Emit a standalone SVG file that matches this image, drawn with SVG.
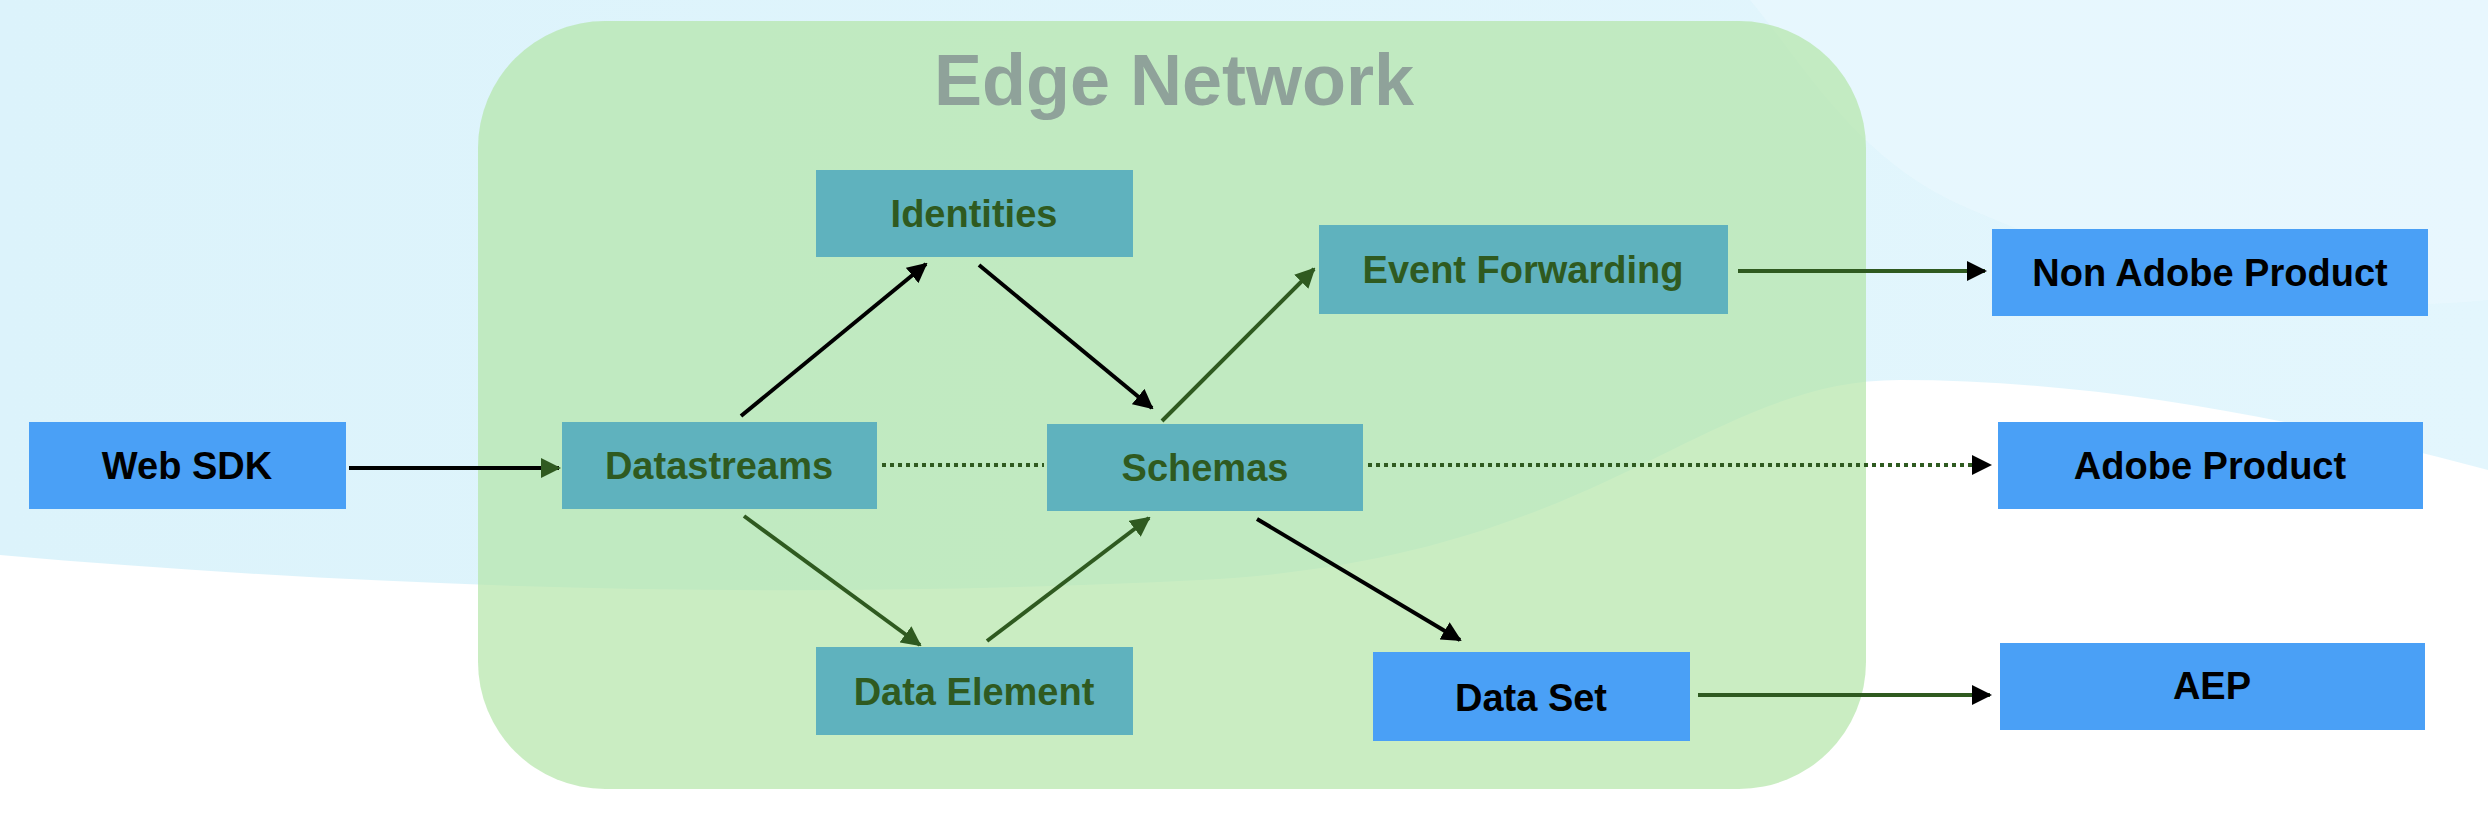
<svg xmlns="http://www.w3.org/2000/svg" width="2488" height="820" viewBox="0 0 2488 820">
<defs>
<style>
.t{fill:#5fb2be}.b{fill:#4aa0f6}
text{font-family:"Liberation Sans",Arial,sans-serif;font-weight:bold;font-size:38px;text-anchor:middle;dominant-baseline:central}
.gt{fill:#2f5a20}.bt{fill:#000}
.k{stroke:#000;stroke-width:4;fill:none}
.g{stroke:#2f5a20;stroke-width:4;fill:none}
</style>
<marker id="ak" viewBox="0 0 10 10" refX="9" refY="5" markerWidth="5" markerHeight="5" orient="auto"><path d="M0,0L10,5L0,10z" fill="#000"/></marker>
<marker id="ag" viewBox="0 0 10 10" refX="9" refY="5" markerWidth="5" markerHeight="5" orient="auto"><path d="M0,0L10,5L0,10z" fill="#2f5a20"/></marker>
<linearGradient id="bg" x1="0" y1="0" x2="1" y2="0"><stop offset="0" stop-color="#dcf3fb"/><stop offset="1" stop-color="#e3f6fd"/></linearGradient>
</defs>
<rect width="2488" height="820" fill="#fff"/>
<path d="M0,0H2488V470C2300,420 2100,380 1900,380C1700,380 1600,560 1200,580C800,600 400,590 0,555Z" fill="url(#bg)"/>
<path d="M1750,0H2488V300C2300,320 2100,270 1950,200C1850,150 1800,60 1750,0Z" fill="#eaf8fd" opacity="0.7"/>
<rect x="478" y="21" width="1388" height="768" rx="127" fill="#b3e6a8" opacity="0.7"/>
<text x="1174" y="80" style="font-size:72px;fill:#8fa29a">Edge Network</text>
<g id="connectors">
<line class="k" x1="349" y1="468" x2="559" y2="468" marker-end="url(#ag)"/>
<line class="k" x1="741" y1="416" x2="926" y2="264" marker-end="url(#ak)"/>
<line class="k" x1="979" y1="265" x2="1152" y2="408" marker-end="url(#ak)"/>
<line class="g" x1="1162" y1="421" x2="1314" y2="269" marker-end="url(#ag)"/>
<line class="g" x1="744" y1="516" x2="920" y2="645" marker-end="url(#ag)"/>
<line class="g" x1="987" y1="641" x2="1149" y2="518" marker-end="url(#ag)"/>
<line class="k" x1="1257" y1="519" x2="1460" y2="640" marker-end="url(#ak)"/>
<line class="g" x1="882" y1="465" x2="1044" y2="465" stroke-dasharray="4 4"/>
<line class="g" x1="1368" y1="465" x2="1990" y2="465" stroke-dasharray="4 4" marker-end="url(#ak)"/>
<line class="g" x1="1738" y1="271" x2="1985" y2="271" marker-end="url(#ak)"/>
<line class="g" x1="1698" y1="695" x2="1990" y2="695" marker-end="url(#ak)"/>
</g>
<g id="web-sdk"><rect class="b" x="29" y="422" width="317" height="87"/><text class="bt" x="187" y="466">Web SDK</text></g>
<g id="datastreams"><rect class="t" x="562" y="422" width="315" height="87"/><text class="gt" x="719" y="466">Datastreams</text></g>
<g id="schemas"><rect class="t" x="1047" y="424" width="316" height="87"/><text class="gt" x="1205" y="468">Schemas</text></g>
<g id="identities"><rect class="t" x="816" y="170" width="317" height="87"/><text class="gt" x="974" y="214">Identities</text></g>
<g id="event-forwarding"><rect class="t" x="1319" y="225" width="409" height="89"/><text class="gt" x="1523" y="270">Event Forwarding</text></g>
<g id="data-element"><rect class="t" x="816" y="647" width="317" height="88"/><text class="gt" x="974" y="692">Data Element</text></g>
<g id="data-set"><rect class="b" x="1373" y="652" width="317" height="89"/><text class="bt" x="1531" y="698">Data Set</text></g>
<g id="non-adobe-product"><rect class="b" x="1992" y="229" width="436" height="87"/><text class="bt" x="2210" y="273">Non Adobe Product</text></g>
<g id="adobe-product"><rect class="b" x="1998" y="422" width="425" height="87"/><text class="bt" x="2210" y="466">Adobe Product</text></g>
<g id="aep"><rect class="b" x="2000" y="643" width="425" height="87"/><text class="bt" x="2212" y="686">AEP</text></g>
</svg>
